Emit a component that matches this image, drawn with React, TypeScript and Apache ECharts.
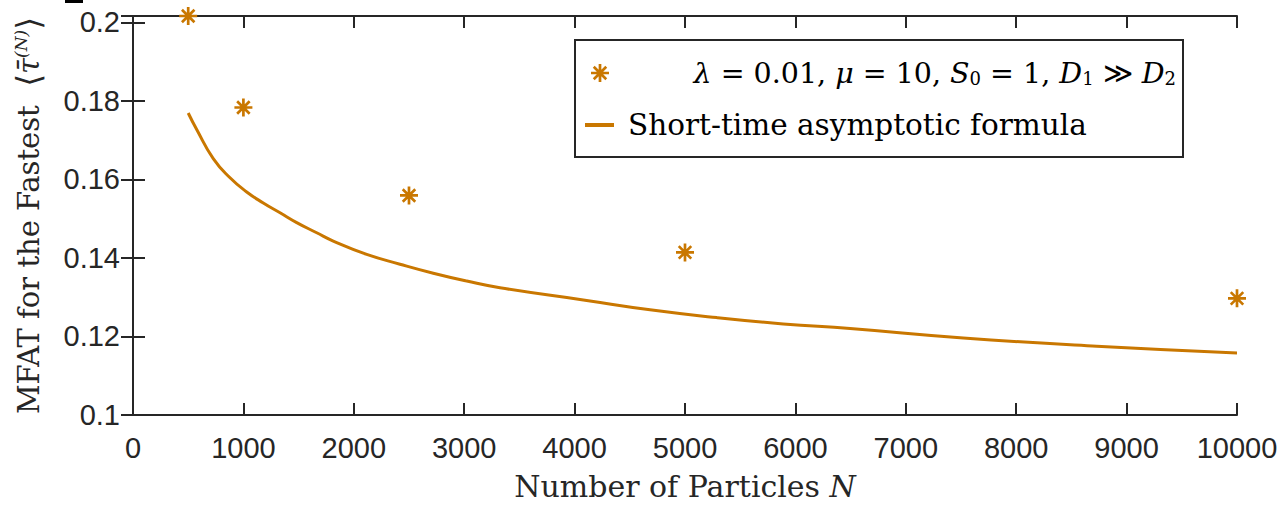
import React, { useEffect, useRef } from "react";
import * as echarts from "echarts";

const simN = [500, 1000, 2500, 5000, 10000];
const simTau = [0.2016, 0.1783, 0.1559, 0.1414, 0.1297];

const curveN = [500, 577, 727, 879, 1030, 1180, 1332, 1483, 1664, 1814, 2117, 2418, 2720, 3023, 3324, 4079, 4683, 5287, 5890, 6495, 7521, 8729, 10000];
const curveTau = [0.1769, 0.1727, 0.1653, 0.1604, 0.1568, 0.154, 0.1515, 0.149, 0.1464, 0.1443, 0.1409, 0.1384, 0.1361, 0.1341, 0.1324, 0.1293, 0.1268, 0.1248, 0.1232, 0.122, 0.1196, 0.1175, 0.1158];

const xTicks = [0, 1000, 2000, 3000, 4000, 5000, 6000, 7000, 8000, 9000, 10000];
const yTicks = [0.1, 0.12, 0.14, 0.16, 0.18, 0.2];

const ORANGE = "#C97700";
const DARK = "#262626";
const STAR_D =
  "M8.5 0H11.5V20H8.5Z M0 8.5H20V11.5H0Z M2.0 4.1L4.1 2.0L18.0 15.9L15.9 18.0Z M15.9 2.0L18.0 4.1L4.1 18.0L2.0 15.9Z";

let registered = false;

export default function App() {
  const ref = useRef<HTMLDivElement>(null);
  useEffect(() => {
    if (!registered) {
      echarts.graphic.registerShape("star8", echarts.graphic.extendPath(STAR_D, {}) as any);
      registered = true;
    }
    const chart = echarts.init(ref.current!, null, { renderer: "svg" });
    const axisLine = { show: true, lineStyle: { color: DARK, width: 2 } };
    const tickStyle = { show: true, inside: true, length: 12, lineStyle: { color: DARK, width: 2 } };
    const labelFont = { fontFamily: "Liberation Sans, Arial, sans-serif", fontSize: 29, color: DARK };
    const serif = "DejaVu Serif, serif";
    const fmtY = (v: number) => {
      const t = yTicks.find((t) => Math.abs(t - v) < 1e-9);
      return t === undefined ? "" : String(t);
    };
    const fmtX = (v: number) => {
      const t = xTicks.find((t) => Math.abs(t - v) < 1e-6);
      return t === undefined ? "" : String(t);
    };
    chart.setOption({
      animation: false,
      backgroundColor: "#fff",
      grid: { left: 133, right: 50, top: 16, bottom: 90 },
      xAxis: [
        {
          type: "value",
          min: 0,
          max: 10000,
          interval: 1000,
          position: "bottom",
          axisLine,
          axisTick: tickStyle,
          splitLine: { show: false },
          axisLabel: { ...labelFont, margin: 18, formatter: fmtX },
          name: "Number of Particles {i|N}",
          nameLocation: "middle",
          nameGap: 56,
          nameTextStyle: {
            fontFamily: serif,
            fontSize: 30,
            color: DARK,
            rich: { i: { fontFamily: serif, fontSize: 30, fontStyle: "italic", color: DARK } },
          },
        },
        {
          type: "value",
          min: 0,
          max: 10000,
          interval: 1000,
          position: "top",
          axisLine,
          axisTick: tickStyle,
          axisLabel: { show: false },
          splitLine: { show: false },
        },
      ],
      yAxis: [
        {
          type: "value",
          min: 0.1,
          max: 0.2016,
          interval: 0.02,
          position: "left",
          axisLine,
          axisTick: tickStyle,
          splitLine: { show: false },
          axisLabel: { ...labelFont, margin: 13, formatter: fmtY },
          name: "MFAT for the Fastest  {a|⟨}{t|τ̄}{s|(N)}{a|⟩}",
          nameLocation: "middle",
          nameRotate: 90,
          nameGap: 88,
          nameTextStyle: {
            fontFamily: serif,
            fontSize: 29,
            color: DARK,
            rich: {
              a: { fontFamily: serif, fontSize: 33, color: DARK },
              t: { fontFamily: serif, fontSize: 29, fontStyle: "italic", color: DARK },
              s: { fontFamily: serif, fontSize: 17, fontStyle: "italic", color: DARK, padding: [0, 0, 16, 0] },
            },
          },
        },
        {
          type: "value",
          min: 0.1,
          max: 0.2016,
          interval: 0.02,
          position: "right",
          axisLine,
          axisTick: tickStyle,
          axisLabel: { show: false },
          splitLine: { show: false },
        },
      ],
      series: [
        {
          type: "line",
          data: curveN.map((n, i) => [n, curveTau[i]]),
          showSymbol: false,
          smooth: 0.5,
          lineStyle: { color: ORANGE, width: 3 },
          z: 3,
        },
        {
          type: "scatter",
          data: simN.map((n, i) => [n, simTau[i]]),
          symbol: "path://" + STAR_D,
          symbolSize: 18,
          itemStyle: { color: ORANGE, opacity: 1 },
          clip: false,
          z: 4,
        },
      ],
      graphic: [
        { type: "rect", left: 65, top: 0, shape: { width: 18, height: 3 }, style: { fill: "#000" } },
        {
          type: "rect",
          shape: { x: 575, y: 40, width: 608, height: 117 },
          style: { fill: "#fff", stroke: DARK, lineWidth: 2 },
          z: 10,
        },
        {
          type: "star8",
          x: 591,
          y: 64,
          scaleX: 0.9,
          scaleY: 0.9,
          style: { fill: ORANGE },
          z: 11,
        },
        {
          type: "line",
          shape: { x1: 585, y1: 125, x2: 614, y2: 125 },
          style: { stroke: ORANGE, lineWidth: 4 },
          z: 11,
        },
        {
          type: "text",
          x: 1176,
          y: 73,
          z: 11,
          style: {
            text: "{i|λ} = 0.01, {i|μ} = 10, {i|S}{s|0} = 1, {i|D}{s|1} ≫ {i|D}{s|2}",
            align: "right",
            verticalAlign: "middle",
            fontFamily: serif,
            fontSize: 28.5,
            fill: "#000",
            rich: {
              i: { fontFamily: serif, fontSize: 28.5, fontStyle: "italic", fill: "#000" },
              s: { fontFamily: serif, fontSize: 18, fill: "#000", padding: [10, 0, 0, 0] },
            },
          },
        },
        {
          type: "text",
          x: 628,
          y: 125,
          z: 11,
          style: {
            text: "Short-time asymptotic formula",
            align: "left",
            verticalAlign: "middle",
            fontFamily: serif,
            fontSize: 29.5,
            fill: "#000",
          },
        },
      ],
    });
    return () => chart.dispose();
  }, []);
  return <div ref={ref} style={{ position: "fixed", left: 0, top: 0, width: 1287, height: 506 }} />;
}
